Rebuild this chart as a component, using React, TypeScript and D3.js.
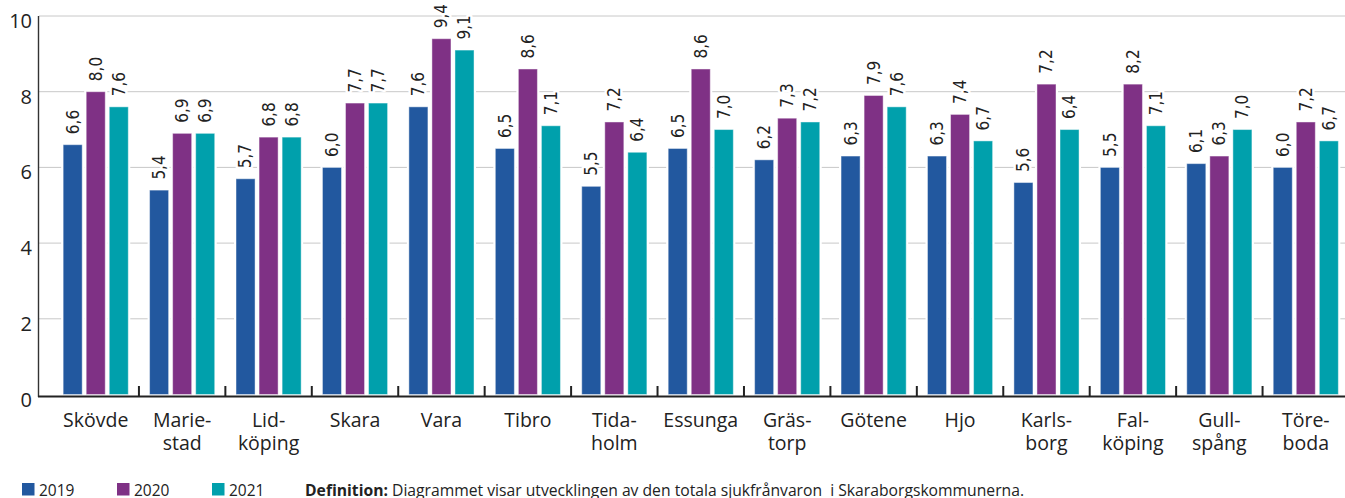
import React from "react";
import * as d3 from "d3";

const categories: string[][] = [
  ["Skövde"], ["Marie-", "stad"], ["Lid-", "köping"], ["Skara"], ["Vara"],
  ["Tibro"], ["Tida-", "holm"], ["Essunga"], ["Gräs-", "torp"], ["Götene"],
  ["Hjo"], ["Karls-", "borg"], ["Fal-", "köping"], ["Gull-", "spång"], ["Töre-", "boda"],
];
const years = ["2019", "2020", "2021"];
const colors = ["#22589f", "#7f3185", "#00a0ac"];

// bar heights as drawn
const values2019 = [6.6, 5.4, 5.7, 6.0, 7.6, 6.5, 5.5, 6.5, 6.2, 6.3, 6.3, 5.6, 6.0, 6.1, 6.0];
const values2020 = [8.0, 6.9, 6.8, 7.7, 9.4, 8.6, 7.2, 8.6, 7.3, 7.9, 7.4, 8.2, 8.2, 6.3, 7.2];
const values2021 = [7.6, 6.9, 6.8, 7.7, 9.1, 7.1, 6.4, 7.0, 7.2, 7.6, 6.7, 7.0, 7.1, 7.0, 6.7];
// value labels as printed
const labels2019 = ["6,6", "5,4", "5,7", "6,0", "7,6", "6,5", "5,5", "6,5", "6,2", "6,3", "6,3", "5,6", "5,5", "6,1", "6,0"];
const labels2020 = ["8,0", "6,9", "6,8", "7,7", "9,4", "8,6", "7,2", "8,6", "7,3", "7,9", "7,4", "7,2", "8,2", "6,3", "7,2"];
const labels2021 = ["7,6", "6,9", "6,8", "7,7", "9,1", "7,1", "6,4", "7,0", "7,2", "7,6", "6,7", "6,4", "7,1", "7,0", "6,7"];
const yTicks = [0, 2, 4, 6, 8, 10];

const definitionBold = "Definition:";
const definitionText = " Diagrammet visar utvecklingen av den totala sjukfrånvaron  i Skaraborgskommunerna.";

const W = 1345;
const H = 498;
const sans = "'Open Sans', 'Noto Sans', sans-serif";
const dejavu = "'DejaVu Sans Condensed', 'DejaVu Sans', sans-serif";

export default function App() {
  const series = [values2019, values2020, values2021];
  const labels = [labels2019, labels2020, labels2021];
  const idx = categories.map((_, i) => String(i));

  const x = d3.scaleBand<string>().domain(idx).range([52.5, 1349]).paddingInner(0.2).paddingOuter(0.1);
  const xi = d3.scaleBand<string>().domain(years).range([0, x.bandwidth()]);
  const y = d3.scaleLinear().domain([0, 10]).range([394.5, 16]);
  const step = x.step();
  const r0 = x.range()[0];

  return (
    <svg width={W} height={H} style={{ position: "absolute", left: 0, top: 0, display: "block", background: "#fff" }}>
      {/* gridlines */}
      {yTicks.filter((t) => t > 0).map((t) => (
        <line key={"g" + t} x1={39} x2={W} y1={y(t)} y2={y(t)} stroke="#c8c8c8" strokeWidth={1} />
      ))}
      {/* y tick labels */}
      {yTicks.map((t) => (
        <text key={"yt" + t} x={32} y={y(t) + 12} textAnchor="end" fontFamily={sans} fontSize={20} fill="#222">
          {t}
        </text>
      ))}
      {/* bars */}
      {idx.map((c, i) => (
        <g key={"c" + c} transform={`translate(${x(c)},0)`}>
          {years.map((yr, k) => {
            const v = series[k][i];
            const bx = xi(yr)!;
            const bw = xi.bandwidth();
            return (
              <g key={yr}>
                <rect x={bx} y={y(v) - 1} width={bw} height={y(0) - y(v) + 1} fill="#fff" />
                <rect x={bx + 2} y={y(v)} width={bw - 4} height={y(0) - y(v)} fill={colors[k]}
                  stroke="rgba(255,255,255,0.45)" strokeWidth={1} />
              </g>
            );
          })}
        </g>
      ))}
      {/* value labels */}
      {idx.map((c, i) =>
        years.map((yr, k) => {
          const v = series[k][i];
          const cx = x(c)! + xi(yr)! + xi.bandwidth() / 2;
          const ty = y(v) - 10.5;
          return (
            <text key={"l" + c + yr} transform={`translate(${cx},${ty}) rotate(-90)`} dy="0.35em"
              textAnchor="start" fontFamily={dejavu} fontStretch="condensed" fontSize={17} fill="#222"
              stroke="#fff" strokeWidth={5} strokeLinejoin="round" style={{ paintOrder: "stroke" }}>
              {labels[k][i]}
            </text>
          );
        })
      )}
      {/* axes */}
      <line x1={38.5} x2={38.5} y1={16} y2={397} stroke="#333" strokeWidth={1.4} />
      <line x1={38} x2={W} y1={396.5} y2={396.5} stroke="#222" strokeWidth={2} />
      {d3.range(1, categories.length).map((j) => (
        <line key={"t" + j} x1={r0 + j * step} x2={r0 + j * step} y1={386} y2={396} stroke="#222" strokeWidth={2} />
      ))}
      {/* category labels */}
      {idx.map((c, i) =>
        categories[i].map((ln, j) => (
          <text key={"x" + c + "_" + j} x={x(c)! + x.bandwidth() / 2} y={426.7 + j * 22.8}
            textAnchor="middle" fontFamily={sans} fontSize={19.5} fill="#222">
            {ln}
          </text>
        ))
      )}
      {/* legend */}
      {years.map((yr, k) => (
        <g key={"lg" + yr} transform={`translate(${22 + k * 95},0)`}>
          <rect x={0} y={483} width={12.5} height={12.5} fill={colors[k]} />
          <text x={17} y={495.5} fontFamily={sans} fontSize={15.5} fill="#222">{yr}</text>
        </g>
      ))}
      <text x={305} y={495.5} fontFamily={sans} fontSize={15.7} fill="#222" style={{ whiteSpace: "pre" }}>
        <tspan fontWeight="bold">{definitionBold}</tspan>
        <tspan>{definitionText}</tspan>
      </text>
    </svg>
  );
}
